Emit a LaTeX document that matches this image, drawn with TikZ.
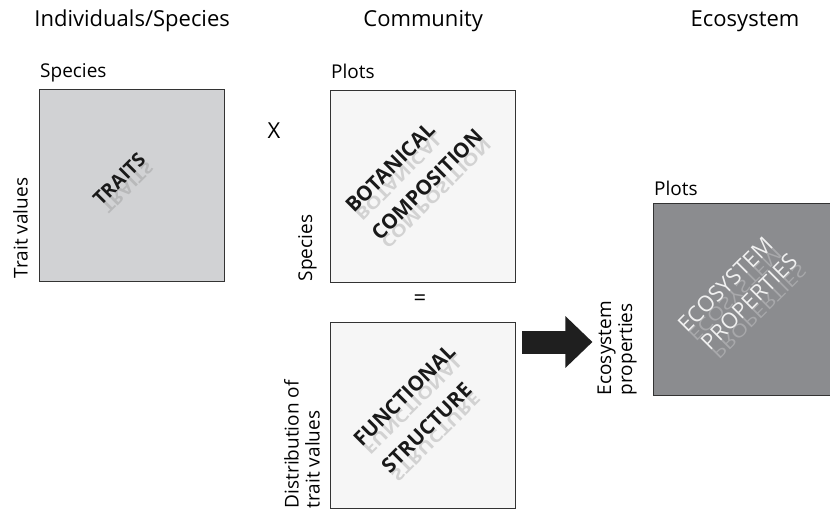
\documentclass[tikz,border=0pt]{standalone}
\usepackage{fontspec}
\setmainfont{Open Sans}
\usepackage{graphicx}
\usetikzlibrary{arrows.meta}

\definecolor{traitgray}{HTML}{D1D2D4}
\definecolor{plotgray}{HTML}{F6F6F6}
\definecolor{ecogray}{HTML}{8B8C8F}
\definecolor{framegray}{HTML}{333333}

% mirrored copy of a line, hanging below its baseline
\newcommand{\mirr}[1]{\scalebox{1}[-0.8]{#1}}

\begin{document}
\begin{tikzpicture}[
    x=1pt, y=-1pt,
    matbox/.style={rectangle, draw=framegray, line width=1.3pt, minimum width=185pt, minimum height=192pt, anchor=north west, inner sep=0pt},
    title/.style={font=\fontsize{22}{26}\selectfont, inner sep=0pt},
    lab/.style={font=\fontsize{19}{21}\selectfont, inner sep=1pt, align=left},
    inside/.style={font=\fontsize{20.5}{24}\selectfont\bfseries, rotate=45, anchor=base west, inner sep=0pt, text=black!90},
    mirror/.style={inside, text=black!50, opacity=0.3},
    ecoline/.style={inside, font=\fontsize{22}{24}\selectfont, text=white!94!black},
    ecomirror/.style={ecoline, text=white, opacity=0.25},
    bigarrow/.style={draw=black!88, line width=23pt, -{Triangle[length=27pt, width=50pt]}}
    ]
    \useasboundingbox (0,0) rectangle (830,515);

    % Boxes
    \node (traits) [matbox, fill=traitgray] at (39,89) {};
    \node (botany) [matbox, fill=plotgray] at (330,90) {};
    \node (funct) [matbox, fill=plotgray, minimum height=186pt] at (330,322) {};
    \node (ecosys) [matbox, fill=ecogray, minimum width=200pt] at (653,203) {};

    % Titles
    \node (indiv) [title] at (traits.north |- 0,21) {Individuals/Species};
    \node (commun) [title] at (botany.north |- 0,21) {Community};
    \node (ecotitle) [title] at (745,21) {Ecosystem};

    % Labels round the boxes
    \node (spcol) [lab, anchor=base west] at ([yshift=12pt]traits.north west) {Species};
    \node (tval) [lab, rotate=90, anchor=south west] at ([shift={(-10,-3)}]traits.south west) {Trait values};
    \node (plotcol) [lab, anchor=base west] at ([yshift=12pt]botany.north west) {Plots};
    \node (sprow) [lab, rotate=90, anchor=south west] at ([shift={(-12,-1)}]botany.south west) {Species};
    \node (distlab) [lab, rotate=90, anchor=south west] at ([xshift=-9pt]funct.south west) {Distribution of\\trait values};
    \node (ecolab) [lab, rotate=90, anchor=south west] at ([xshift=-15pt]ecosys.south west) {Ecosystem\\properties};
    \node (plotcol2) [lab, anchor=base west] at ([yshift=8pt]ecosys.north west) {Plots};

    % Operators
    \node (times) [title] at (274,131) {X};
    \node (equals) [title] at (420,300) {=};

    % Box texts, each line with its reflection
    \node (traitsmir) [mirror, font=\fontsize{19}{22}\selectfont\bfseries] at (101,207) {\mirr{TRAITS}};
    \node (traitstxt) [inside, font=\fontsize{19}{22}\selectfont\bfseries] at (101,207) {TRAITS};
    \node (botanymir) [mirror] at (354,214) {\mirr{BOTANICAL}};
    \node (botanytxt) [inside] at (354,214) {BOTANICAL};
    \node (compomir) [mirror] at (380,242) {\mirr{COMPOSITION}};
    \node (compotxt) [inside] at (380,242) {COMPOSITION};
    \node (functmir) [mirror] at (362,448) {\mirr{FUNCTIONAL}};
    \node (functtxt) [inside] at (362,448) {FUNCTIONAL};
    \node (structmir) [mirror] at (390,475) {\mirr{STRUCTURE}};
    \node (structtxt) [inside] at (390,475) {STRUCTURE};
    \node (ecomir) [ecomirror] at (687,334) {\mirr{ECOSYSTEM}};
    \node (ecotxt) [ecoline] at (687,334) {ECOSYSTEM};
    \node (propmir) [ecomirror] at (710,352) {\mirr{PROPERTIES}};
    \node (proptxt) [ecoline] at (710,352) {PROPERTIES};

    % Arrow
    \coordinate (arrowstart) at ([shift={(6,20)}]funct.north east);
    \coordinate (arrowtip) at ([xshift=-4pt]ecolab.north west |- arrowstart);
    \draw [bigarrow] (arrowstart) -- (arrowtip);
\end{tikzpicture}
\end{document}
